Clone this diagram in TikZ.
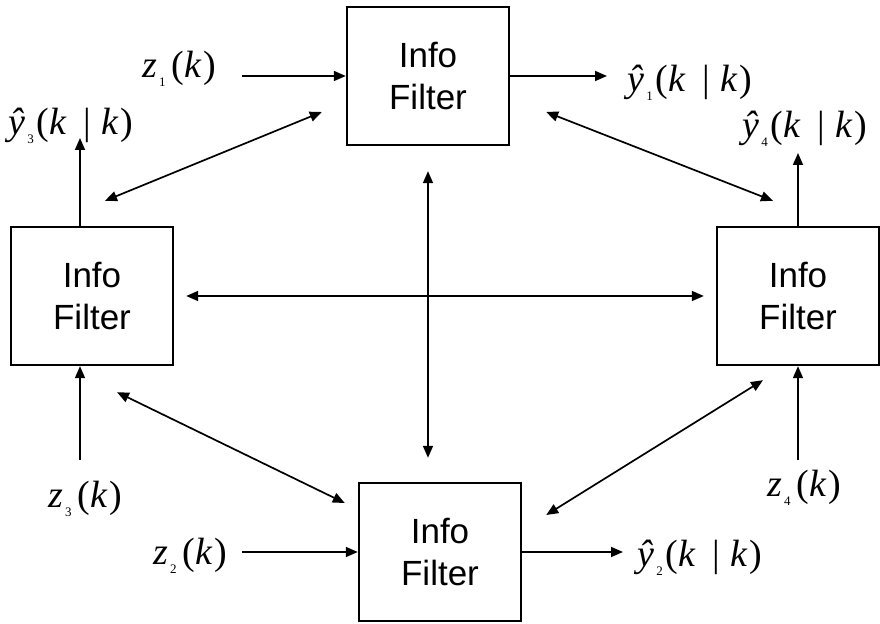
\documentclass[tikz,border=0pt]{standalone}
\usepackage{fontspec}
\setmainfont{Liberation Sans}
\newfontfamily\eqfont{Liberation Serif}
\usetikzlibrary{arrows.meta}

% measurement labels z_i(k) and estimates y_i(k|k)
\newcommand{\zlab}[1]{{\eqfont\itshape z\hspace{1pt}\raisebox{-4.5pt}{\upshape\fontsize{6.5}{6.5}\selectfont #1}\hspace{3pt}\upshape(\itshape k\/\hspace{1pt}\upshape)}}
\newcommand{\ylab}[1]{{\eqfont\itshape ŷ\hspace{1pt}\raisebox{-4.5pt}{\upshape\fontsize{6.5}{6.5}\selectfont #1}\hspace{1.5pt}\upshape(\itshape k\/\hspace{8.5pt}\upshape|\hspace{5pt}\itshape k\/\hspace{1pt}\upshape)}}

\begin{document}
\begin{tikzpicture}[x=0.5pt, y=-0.5pt,
		>={Triangle[length=6pt,width=5pt]},
		filterbox/.style={draw, line width=1.2pt, minimum width=81pt, minimum height=69pt,
			inner sep=0pt, align=center, font=\fontsize{17.5}{21}\selectfont},
		lab/.style={inner sep=0pt, anchor=base west, font=\fontsize{19}{21}\selectfont},
		link/.style={line width=0.85pt, ->},
		twoway/.style={line width=0.85pt, <->}]
	\useasboundingbox (0,0) rectangle (880,624);
	
	% The four filters
	\node[filterbox] (tf) at (428,76) {Info\\Filter};
	\node[filterbox] (lf) at (92,296) {Info\\Filter};
	\node[filterbox] (rt) at (798,296) {Info\\Filter};
	\node[filterbox] (bt) at (440,552) {Info\\Filter};
	
	% Measurements in, estimates out
	\node[lab] (z1) at (142,78) {\zlab{1}};
	\node[lab] (z2) at (153,565) {\zlab{2}};
	\node[lab] (z3) at (48,508) {\zlab{3}};
	\node[lab] (z4) at (767,497) {\zlab{4}};
	\node[lab] (y1) at (627,92) {\ylab{1}};
	\node[lab] (y2) at (637,567) {\ylab{2}};
	\node[lab] (y3) at (8,135) {\ylab{3}};
	\node[lab] (y4) at (742,138) {\ylab{4}};
	
	\coordinate (z1tail) at (242,76);
	\coordinate (z2tail) at (242,552);
	\coordinate (z3tail) at (80,460);
	\coordinate (z4tail) at (798,460);
	\coordinate (y1tip) at (607,76);
	\coordinate (y2tip) at (623,552);
	\coordinate (y3tip) at (80,138);
	\coordinate (y4tip) at (798,153);
	
	\draw[link] (z1tail) -- (tf.west);
	\draw[link] (z2tail) -- (bt.west);
	\draw[link] (z3tail) -- (z3tail |- lf.south);
	\draw[link] (z4tail) -- (rt.south);
	\draw[link] (tf.east) -- (y1tip);
	\draw[link] (bt.east) -- (y2tip);
	\draw[link] (y3tip |- lf.north) -- (y3tip);
	\draw[link] (rt.north) -- (y4tip);
	
	% Exchange between the filters
	\draw[twoway] ([shift={(13,-25)}]lf.north) -- ([shift={(-24,36)}]tf.west);
	\draw[twoway] ([shift={(36,36)}]tf.east) -- ([shift={(-25,-25)}]rt.north);
	\draw[twoway] ([shift={(25,26)}]lf.south) -- ([shift={(-13,-49)}]bt.west);
	\draw[twoway] ([shift={(24,-37)}]bt.east) -- ([shift={(-35,14)}]rt.south);
	\draw[twoway, shorten <=6pt, shorten >=6pt] (lf.east) -- (rt.west);
	\draw[twoway, shorten <=12.5pt, shorten >=12pt] (tf.south) -- (tf.south |- bt.north);
\end{tikzpicture}
\end{document}
